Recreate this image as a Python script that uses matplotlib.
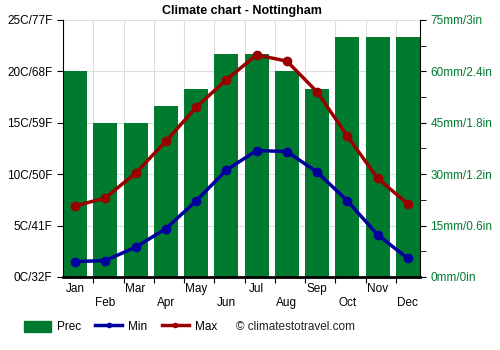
import matplotlib
matplotlib.use('Agg')
import matplotlib.pyplot as plt
from matplotlib.patches import Patch
from matplotlib.lines import Line2D
import numpy as np

plt.rcParams['font.family'] = ['Liberation Sans', 'DejaVu Sans']

months = ['Jan', 'Feb', 'Mar', 'Apr', 'May', 'Jun', 'Jul', 'Aug', 'Sep', 'Oct', 'Nov', 'Dec']
prec = [60, 45, 45, 50, 55, 65, 65, 60, 55, 70, 70, 70]
t_min = [1.5, 1.6, 2.9, 4.7, 7.4, 10.4, 12.3, 12.2, 10.2, 7.4, 4.1, 1.8]
t_max = [6.9, 7.7, 10.1, 13.2, 16.5, 19.2, 21.6, 21.0, 18.0, 13.7, 9.6, 7.1]

left_labels = ['0C/32F', '5C/41F', '10C/50F', '15C/59F', '20C/68F', '25C/77F']
right_labels = ['0mm/0in', '15mm/0.6in', '30mm/1.2in', '45mm/1.8in', '60mm/2.4in', '75mm/3in']

green = '#007A2F'
blue = '#00009C'
red = '#990000'

fig = plt.figure(figsize=(5, 3.5), dpi=100)
ax = fig.add_axes([0.126, 0.2086, 0.714, 0.7343])
ax2 = ax.twinx()

x = np.arange(12)
ax2.bar(x, prec, width=0.8, color=green, zorder=2)
ax2.set_ylim(0, 75)
ax2.set_yticks(np.arange(0, 76, 15))
ax2.set_yticklabels(right_labels, color=green, fontsize=8.5)
ax2.set_yticks(np.arange(0, 76, 7.5), minor=True)
ax2.tick_params(axis='y', which='both', length=4)

ax.set_zorder(ax2.get_zorder() + 1)
ax.patch.set_visible(False)
ax.plot(x, t_min, color=blue, lw=2.5, marker='o', ms=6, zorder=4)
ax.plot(x, t_max, color=red, lw=2.5, marker='o', ms=6, zorder=4)
ax.set_ylim(0, 25)
ax.set_xlim(-0.4, 11.4)
ax.set_yticks(np.arange(0, 26, 5))
ax.set_yticklabels(left_labels, fontsize=8.5)
ax.tick_params(axis='y', length=4)

# grid drawn on the bar axis so it sits behind bars
ax2.set_xlim(-0.4, 11.4)
for v in np.arange(5, 26, 5):
    ax2.axhline(v * 3, color='#dddddd', lw=0.8, zorder=0)
for b in np.arange(0.6, 11, 1.0):
    ax2.axvline(b, color='#dddddd', lw=0.8, zorder=0)

ax.set_xticks(np.arange(0.6, 11, 1.0))
ax.set_xticklabels([])
ax.tick_params(axis='x', length=4)
for i, m in enumerate(months):
    yoff = -0.045 if i % 2 == 0 else -0.1
    ax.text(i, yoff, m, transform=ax.get_xaxis_transform(), ha='center', va='center', fontsize=8.5)

for a in (ax, ax2):
    a.spines['top'].set_visible(False)
ax.spines['right'].set_visible(False)
ax.spines['bottom'].set_linewidth(2)
ax2.spines['bottom'].set_visible(False)
ax2.spines['left'].set_visible(False)

ax.set_title('Climate chart - Nottingham', fontsize=9, fontweight='bold', pad=4)

handles = [Patch(color=green), Line2D([], [], color=blue, lw=2.5, marker='o', ms=3),
           Line2D([], [], color=red, lw=2.5, marker='o', ms=3)]
fig.legend(handles, ['Prec', 'Min', 'Max'], loc='center left', bbox_to_anchor=(0.048, 0.066),
           ncol=3, frameon=False, fontsize=8.5, handlelength=2.3, handleheight=1.1,
           handletextpad=0.5, columnspacing=1.2, borderaxespad=0, borderpad=0)
fig.text(0.472, 0.066, '\u00a9 climatestotravel.com', fontsize=8.5, va='center', color='#222222')

fig.savefig('out.png', dpi=100)
